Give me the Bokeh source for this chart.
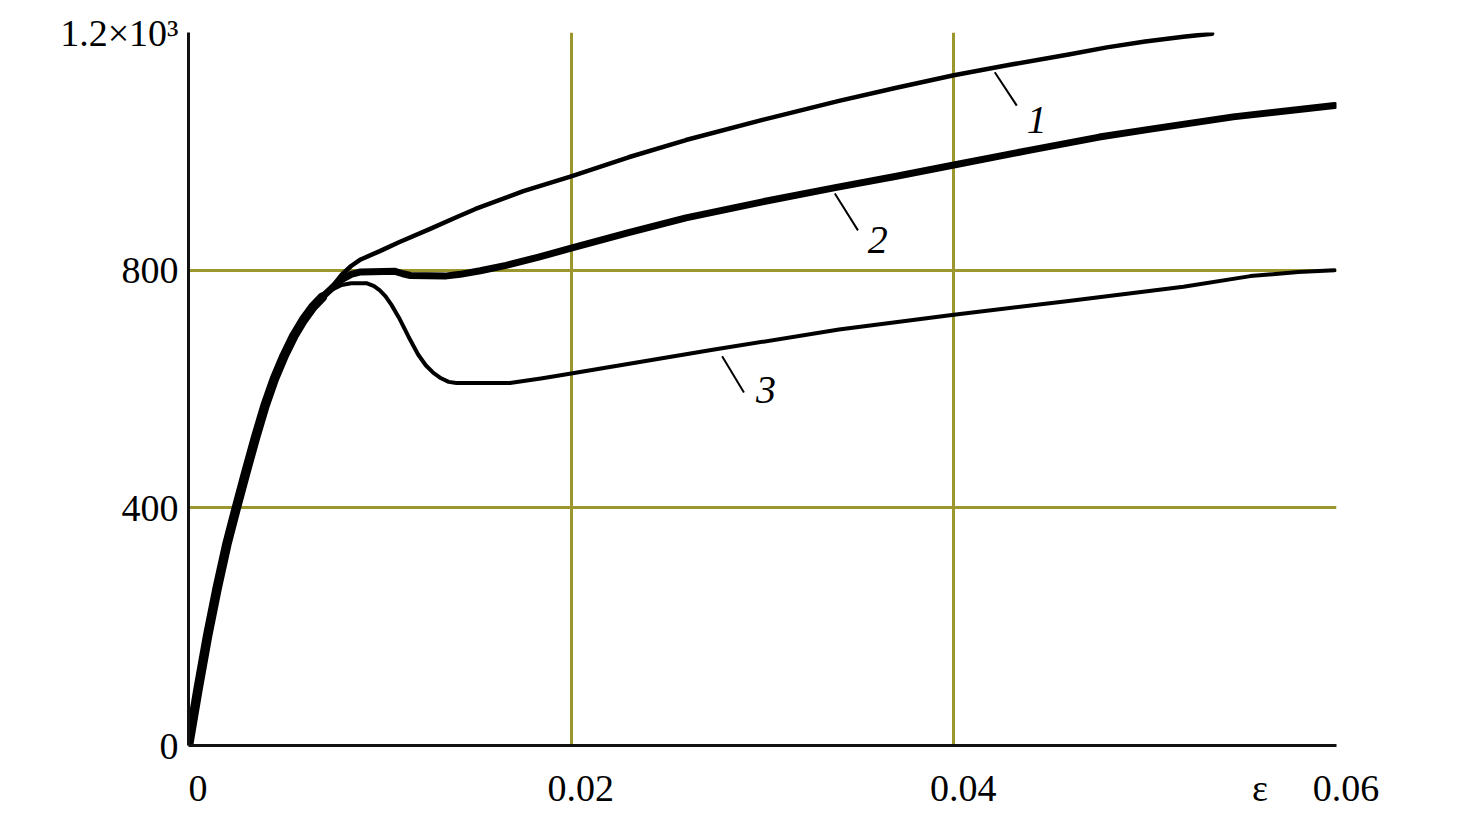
from bokeh.plotting import figure
from bokeh.models import Range1d, FixedTicker, Label
from bokeh.embed import file_html
from bokeh.resources import INLINE

# ---- data ----
# shared elastic part of all three curves (strain, stress)
eps_elastic = [0.0, 0.0005, 0.001, 0.0015, 0.002, 0.0025, 0.003, 0.0035, 0.004, 0.0045, 0.005, 0.0055, 0.006, 0.0065, 0.007]
sig_elastic = [0, 95, 185, 265, 338, 400, 460, 518, 572, 618, 656, 689, 716, 738, 755]

eps_1 = [0.007, 0.0075, 0.008, 0.0085, 0.009, 0.010, 0.011, 0.0126, 0.014, 0.015, 0.0175, 0.020, 0.023, 0.026, 0.030,
         0.034, 0.037, 0.040, 0.043, 0.046, 0.048, 0.050, 0.052, 0.0535]
sig_1 = [755, 772, 792, 807, 818, 832, 847, 869, 889, 903, 933, 958, 990, 1019, 1053,
         1085, 1107, 1128, 1146, 1163, 1175, 1185, 1193, 1198]

eps_2 = [0.007, 0.0075, 0.008, 0.0085, 0.009, 0.0108, 0.0112, 0.0116, 0.0134, 0.0142, 0.01525, 0.0166, 0.0183, 0.020,
         0.023, 0.026, 0.030, 0.0338, 0.037, 0.040, 0.044, 0.0476, 0.0502, 0.0546, 0.0599]
sig_2 = [755, 770, 784, 793, 797, 798, 794, 791, 790, 793, 799, 808, 822, 837,
         863, 888, 915, 939, 958, 977, 1002, 1024, 1037, 1058, 1077]

eps_3 = [0.007, 0.0075, 0.008, 0.0085, 0.0093, 0.0097, 0.0100, 0.0103, 0.0106, 0.0110, 0.0115, 0.0120, 0.0124, 0.0128,
         0.0132, 0.0136, 0.0140, 0.0168, 0.0185, 0.020, 0.0274, 0.034, 0.040, 0.046, 0.052, 0.0555, 0.058, 0.0599]
sig_3 = [755, 767, 775, 778, 778, 773, 766, 756, 742, 720, 688, 658, 640, 627,
         618, 612, 610, 610, 618, 626, 666, 700, 725, 748, 772, 790, 797, 800]

curve_names = ["1", "2", "3"]
leader_x0 = [0.04214, 0.03378, 0.02789]
leader_y0 = [1133, 929, 655]
leader_x1 = [0.04329, 0.03499, 0.02903]
leader_y1 = [1077, 867, 594]
name_x = [0.04433, 0.03603, 0.03018]
name_y = [1052, 850, 598]

# x axis: numeric ticks plus the axis symbol (epsilon) placed near the right end
eps_symbol_pos = 0.056
x_ticks = [0, 0.02, 0.04, eps_symbol_pos, 0.06]
x_tick_labels = {0: "\u20020", 0.02: "\u20020.02", 0.04: "\u20020.04", eps_symbol_pos: "ε", 0.06: "\u20020.06"}
y_ticks = [0, 400, 800, 1200]
y_tick_labels = {0: "0", 400: "400", 800: "800", 1200: "1.2×10³"}
x_grid = [0.02, 0.04]
y_grid = [400, 800]

FONT = "Liberation Serif"
GRID = "#9c962e"

p = figure(width=1460, height=822, output_backend="svg", toolbar_location=None,
           x_range=Range1d(0, 0.06), y_range=Range1d(0, 1200),
           min_border_left=188, min_border_right=124, min_border_top=32, min_border_bottom=77)
p.outline_line_color = None
p.background_fill_color = "white"
p.border_fill_color = "white"

p.xgrid.ticker = FixedTicker(ticks=x_grid)
p.ygrid.ticker = FixedTicker(ticks=y_grid)
for g in (p.xgrid, p.ygrid):
    g.grid_line_color = GRID
    g.grid_line_width = 3
    g.grid_line_alpha = 1.0

p.xaxis.ticker = FixedTicker(ticks=x_ticks)
p.yaxis.ticker = FixedTicker(ticks=y_ticks)
p.xaxis.major_label_overrides = x_tick_labels
p.yaxis.major_label_overrides = y_tick_labels
for ax in (p.xaxis, p.yaxis):
    ax.axis_line_color = "#111111"
    ax.axis_line_width = 3
    ax.major_tick_line_color = None
    ax.minor_tick_line_color = None
    ax.major_tick_in = 0
    ax.major_tick_out = 0
    ax.major_label_text_font = FONT
    ax.major_label_text_font_size = "38px"
    ax.major_label_text_color = "black"
p.xaxis.major_label_standoff = 21
p.yaxis.major_label_standoff = 10

# curves
p.line(eps_1, sig_1, line_color="black", line_width=4.5, line_join="round", line_cap="round")
p.line(eps_2, sig_2, line_color="black", line_width=7, line_join="round", line_cap="round")
p.line(eps_3, sig_3, line_color="black", line_width=4, line_join="round", line_cap="round")
p.line(eps_elastic, sig_elastic, line_color="black", line_width=9.5, line_join="round", line_cap="round")

# leaders and curve numbers
p.segment(x0=leader_x0, y0=leader_y0, x1=leader_x1, y1=leader_y1, line_color="black", line_width=2)
for nx, ny, nm in zip(name_x, name_y, curve_names):
    p.add_layout(Label(x=nx, y=ny, text=nm, text_font=FONT, text_font_size="40px",
                       text_font_style="italic", text_align="center", text_baseline="middle",
                       text_color="black"))

# axis symbol sigma
p.add_layout(Label(x=-0.00355, y=1106, text="σ", text_font=FONT, text_font_size="42px",
                   text_align="center", text_baseline="middle", text_color="black"))

open("out.html", "w").write(file_html(p, INLINE))
